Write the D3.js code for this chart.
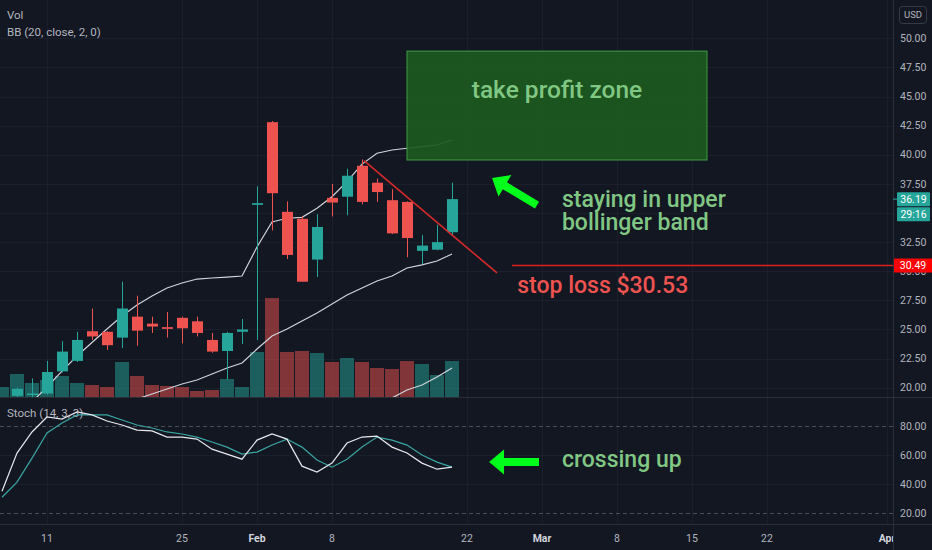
<!DOCTYPE html>
<html>
<head>
<meta charset="utf-8">
<script src="https://cdn.jsdelivr.net/npm/d3@7"></script>
<style>
  html, body { margin: 0; padding: 0; background: #131722; overflow: hidden; }
  svg { display: block; font-family: Roboto, 'Liberation Sans', sans-serif; }
</style>
</head>
<body>
<svg id="chart" width="932" height="550"></svg>
<script>
// ---- data ----
const dates = ['2021-01-06', '2021-01-07', '2021-01-08', '2021-01-11', '2021-01-12', '2021-01-13', '2021-01-14',
    '2021-01-15', '2021-01-19', '2021-01-20', '2021-01-21', '2021-01-22', '2021-01-25', '2021-01-26', '2021-01-27',
    '2021-01-28', '2021-01-29', '2021-02-01', '2021-02-02', '2021-02-03', '2021-02-04', '2021-02-05', '2021-02-08',
    '2021-02-09', '2021-02-10', '2021-02-11', '2021-02-12', '2021-02-16', '2021-02-17', '2021-02-18', '2021-02-19'];
const open = [18.6, 19.3, 19.4, 19.5, 21.4, 22.3, 24.85, 24.8, 24.3, 26.1, 25.5, 25.2, 26.0, 25.7, 24.1,
    23.15, 24.8, 35.7, 42.8, 35.1, 34.5, 31.0, 36.3, 36.4, 39.05, 37.6, 36.1, 35.95, 31.75, 31.85, 33.35];
const high = [19.1, 20.0, 20.8, 22.3, 24.0, 24.8, 26.8, 24.85, 29.1, 27.9, 26.1, 26.5, 26.1, 26.1, 24.7,
    24.8, 25.9, 37.3, 42.9, 36.0, 34.7, 34.9, 37.5, 38.8, 39.6, 37.95, 37.05, 36.0, 33.1, 34.0, 37.6];
const low = [18.4, 19.2, 19.2, 19.4, 21.3, 22.2, 24.1, 23.25, 23.4, 23.6, 24.7, 24.3, 23.8, 24.4, 23.0,
    20.7, 23.75, 24.1, 33.5, 31.05, 29.1, 29.5, 34.7, 34.8, 35.75, 35.95, 33.2, 31.2, 30.6, 31.8, 33.1];
const close = [19.0, 19.9, 19.5, 21.35, 23.1, 24.1, 24.4, 23.65, 26.8, 24.9, 25.25, 25.05, 25.1, 24.7, 23.1,
    24.7, 25.0, 35.85, 36.7, 31.4, 29.1, 33.8, 35.9, 38.2, 35.95, 36.8, 33.25, 32.85, 32.2, 32.5, 36.19];
// volume, millions
const volume = [3.0, 6.9, 4.2, 5.1, 6.3, 4.2, 3.6, 3.0, 10.5, 6.3, 3.6, 3.3, 3.0, 1.8, 2.1,
    5.4, 3.0, 13.5, 29.7, 13.5, 13.8, 13.2, 10.5, 11.7, 10.5, 8.7, 8.4, 10.8, 9.9, 6.6, 10.8];

// Bollinger bands (null = not on screen)
const bbUpper = [null, null, 18.77, 20.06, 21.43, 22.72, 23.88, 25.04, 26.16, 27.1, 27.87, 28.56, 28.99, 29.33, 29.42,
    29.5, 29.59, 32.08, 34.23, 34.55, 34.63, 35.4, 36.4, 37.69, 39.2, 40.13, 40.41, 40.56, 40.7, 40.84, 41.27];
const bbBasis = [null, null, null, null, null, null, null, null, 18.6, 19.03, 19.46, 19.89, 20.32, 20.66, 21.18,
    21.69, 22.12, 23.32, 24.44, 25.04, 25.73, 26.42, 27.19, 27.96, 28.56, 29.16, 29.59, 30.28, 30.54, 30.88, 31.48];
const bbLower = [null, null, null, null, null, null, null, null, null, null, null, null, null, null, null,
    null, null, null, null, null, null, null, null, null, null, 18.5, 19.12, 19.8, 20.23, 20.92, 21.69];

// Stochastic (14, 3, 3)
const stochK = [35.2, 61.4, 75.9, 86.2, 84.8, 89.7, 87.6, 83.4, 80.7, 77.2, 76.6, 72.4, 72.4, 71.0, 64.1,
    60.7, 57.2, 70.3, 74.5, 71.0, 52.4, 48.3, 54.5, 68.3, 72.4, 73.1, 65.5, 61.4, 54.5, 50.3, 51.7];
const stochD = [31.0, 41.4, 57.9, 75.2, 82.1, 87.6, 87.6, 87.6, 84.1, 80.7, 78.6, 75.9, 74.5, 72.4, 69.0,
    65.5, 60.7, 62.1, 66.9, 71.0, 65.5, 56.6, 51.7, 57.2, 65.5, 72.4, 70.3, 66.9, 60.0, 55.2, 51.7];

// axes
const priceTicks = [20, 22.5, 25, 27.5, 30, 32.5, 35, 37.5, 40, 42.5, 45, 47.5, 50];
const stochTicks = [20, 40, 60, 80];
const stochLevels = [80, 20];
const tickDates = ['2021-01-11', '2021-01-25', '2021-02-01', '2021-02-08', '2021-02-22', '2021-03-01',
    '2021-03-08', '2021-03-15', '2021-03-22', '2021-04-01'];
const tickLabels = ['11', '25', 'Feb', '8', '22', 'Mar', '8', '15', '22', 'Apr'];
const holidays = ['2021-01-18', '2021-02-15'];

// drawings
const profitZone = {from: '2021-02-16', to: '2021-03-16', low: 39.55, high: 48.9};
const trendLine = [['2021-02-10', 39.5, 0.13], ['2021-02-24', 29.85, 0]];
const stopLoss = {from: '2021-02-25', price: 30.49};
const lastPrice = 36.19;

const C = {
    bg: '#131722', grid: '#1b1f2b', border: '#2a2e39', text: '#b2b5be',
    up: '#26a69a', down: '#ef5350', band: '#d1d4dc', stochK: '#e6e8ee', stochD: '#3aa6a3',
    note: '#81c784', arrow: '#00ff1a', rect: '#1c5a20', rectStroke: '#3d9e3f', stop: '#e0201f'
};

const plotRight = 893;
const priceBottom = 397;
const stochTop = 398, stochBottom = 524;

// ---- calendar / scales ----
const parse = d3.timeParse('%Y-%m-%d');
const fmt = d3.timeFormat('%Y-%m-%d');
const calendar = d3.timeDay.range(parse('2021-01-06'), parse('2021-04-03'))
    .filter(d => d.getDay() !== 0 && d.getDay() !== 6 && !holidays.includes(fmt(d)))
    .map(fmt);
const dayIndex = date => calendar.indexOf(date);

const x = d3.scaleLinear().domain([0, 1]).range([2, 17]);
const yPrice = d3.scaleLinear().domain([20, 50]).range([387.7, 38.3]);
const yVol = d3.scaleLinear().domain([0, d3.max(volume)]).range([priceBottom, 298]);
const yStoch = d3.scaleLinear().domain([20, 80]).range([513.3, 426]);

const px = (date, shift = 0) => x(dayIndex(date) + shift);

const svg = d3.select('#chart');
const defs = svg.append('defs');
defs.append('clipPath').attr('id', 'clip-price')
    .append('rect').attr('x', 0).attr('y', 0).attr('width', plotRight).attr('height', priceBottom);
defs.append('clipPath').attr('id', 'clip-stoch')
    .append('rect').attr('x', 0).attr('y', stochTop).attr('width', plotRight).attr('height', stochBottom - stochTop);
defs.append('clipPath').attr('id', 'clip-time')
    .append('rect').attr('x', 0).attr('y', stochBottom).attr('width', plotRight).attr('height', 30);

svg.append('rect').attr('width', 932).attr('height', 550).attr('fill', C.bg);

const bars = dates.map((d, i) => ({
    i: dayIndex(d), o: open[i], h: high[i], l: low[i], c: close[i], v: volume[i], up: close[i] >= open[i]
}));

/**
 * Grid lines for both panes
 */
function drawGrid() {
    const g = svg.append('g').attr('class', 'grid');

    g.selectAll('.vgrid')
        .data(tickDates)
        .join('line')
        .attr('x1', d => Math.round(px(d)) + 0.5)
        .attr('x2', d => Math.round(px(d)) + 0.5)
        .attr('y1', 0)
        .attr('y2', stochBottom)
        .attr('stroke', C.grid)

    g.selectAll('.hgrid')
        .data(priceTicks)
        .join('line')
        .attr('x1', 0)
        .attr('x2', plotRight)
        .attr('y1', d => Math.round(yPrice(d)) + 0.5)
        .attr('y2', d => Math.round(yPrice(d)) + 0.5)
        .attr('stroke', C.grid)

    g.selectAll('.sgrid')
        .data(stochTicks.filter(d => !stochLevels.includes(d)))
        .join('line')
        .attr('x1', 0)
        .attr('x2', plotRight)
        .attr('y1', d => Math.round(yStoch(d)) + 0.5)
        .attr('y2', d => Math.round(yStoch(d)) + 0.5)
        .attr('stroke', C.grid)
}

/**
 * Volume, bands and candles in the main pane
 */
function drawPrice() {
    const g = svg.append('g').attr('clip-path', 'url(#clip-price)');

    g.append('g').selectAll('rect')
        .data(bars)
        .join('rect')
        .attr('x', d => x(d.i) - 7)
        .attr('width', 14)
        .attr('y', d => yVol(d.v))
        .attr('height', d => priceBottom - yVol(d.v))
        .attr('fill', d => d.up ? C.up : C.down)
        .attr('fill-opacity', 0.5)

    const line = d3.line()
        .defined(d => d[1] !== null)
        .x(d => x(d[0]))
        .y(d => yPrice(d[1]));

    [bbUpper, bbBasis, bbLower].forEach(series => {
        g.append('path')
            .attr('d', line(series.map((v, i) => [bars[i].i, v])))
            .attr('fill', 'none')
            .attr('stroke', C.band)
            .attr('stroke-width', 1.2)
    })

    const candle = g.append('g').selectAll('g')
        .data(bars)
        .join('g')
        .attr('fill', d => d.up ? C.up : C.down)
        .attr('stroke', d => d.up ? C.up : C.down)

    candle.append('line')
        .attr('x1', d => Math.round(x(d.i)) + 0.5)
        .attr('x2', d => Math.round(x(d.i)) + 0.5)
        .attr('y1', d => yPrice(d.h))
        .attr('y2', d => yPrice(d.l))
        .attr('stroke-width', 1)

    candle.append('rect')
        .attr('x', d => Math.round(x(d.i)) - 5)
        .attr('width', 11)
        .attr('y', d => yPrice(Math.max(d.o, d.c)))
        .attr('height', d => Math.max(1.5, Math.abs(yPrice(d.o) - yPrice(d.c))))
        .attr('stroke', 'none')
}

/**
 * Stochastic pane
 */
function drawStoch() {
    const g = svg.append('g').attr('clip-path', 'url(#clip-stoch)');

    g.selectAll('.level')
        .data(stochLevels)
        .join('line')
        .attr('x1', 0)
        .attr('x2', plotRight)
        .attr('y1', d => Math.round(yStoch(d)) + 0.5)
        .attr('y2', d => Math.round(yStoch(d)) + 0.5)
        .attr('stroke', '#787b86')
        .attr('stroke-opacity', 0.55)
        .attr('stroke-dasharray', '4,3')

    g.append('text')
        .attr('x', 7)
        .attr('y', 417)
        .attr('fill', C.text)
        .attr('font-size', 11.5)
        .text('Stoch (14, 3, 3)')

    const line = d3.line()
        .x(d => x(d[0]))
        .y(d => yStoch(d[1]));

    g.append('path')
        .attr('d', line(stochD.map((v, i) => [bars[i].i, v])))
        .attr('fill', 'none')
        .attr('stroke', C.stochD)
        .attr('stroke-width', 1.2)

    g.append('path')
        .attr('d', line(stochK.map((v, i) => [bars[i].i, v])))
        .attr('fill', 'none')
        .attr('stroke', C.stochK)
        .attr('stroke-width', 1.2)
}

/**
 * Filled arrow from tail to tip
 */
function arrow(g, x0, y0, x1, y1) {
    const len = Math.hypot(x1 - x0, y1 - y0);
    const ang = Math.atan2(y1 - y0, x1 - x0) * 180 / Math.PI;
    const w = 8, hw = 25, hl = 15;
    const pts = [[0, -w / 2], [len - hl, -w / 2], [len - hl, -hw / 2], [len, 0],
        [len - hl, hw / 2], [len - hl, w / 2], [0, w / 2]];

    g.append('polygon')
        .attr('points', pts.map(p => p.join(',')).join(' '))
        .attr('transform', `translate(${x0},${y0}) rotate(${ang})`)
        .attr('fill', C.arrow)
}

/**
 * User drawings and notes
 */
function drawNotes() {
    const g = svg.append('g');

    const rx0 = px(profitZone.from), rx1 = px(profitZone.to);
    g.append('rect')
        .attr('x', rx0)
        .attr('y', yPrice(profitZone.high))
        .attr('width', rx1 - rx0)
        .attr('height', yPrice(profitZone.low) - yPrice(profitZone.high))
        .attr('fill', C.rect)
        .attr('fill-opacity', 0.92)
        .attr('stroke', C.rectStroke)
        .attr('stroke-width', 1)

    g.append('text')
        .attr('x', (rx0 + rx1) / 2)
        .attr('y', yPrice(44.87))
        .attr('text-anchor', 'middle')
        .attr('fill', C.note)
        .attr('font-size', 24.5)
        .attr('font-weight', 500)
        .text('take profit zone')

    g.append('line')
        .attr('x1', px(trendLine[0][0], trendLine[0][2]))
        .attr('y1', yPrice(trendLine[0][1]))
        .attr('x2', px(trendLine[1][0], trendLine[1][2]))
        .attr('y2', yPrice(trendLine[1][1]))
        .attr('stroke', '#d62a2a')
        .attr('stroke-width', 1.6)

    g.append('line')
        .attr('x1', px(stopLoss.from))
        .attr('x2', plotRight)
        .attr('y1', yPrice(stopLoss.price))
        .attr('y2', yPrice(stopLoss.price))
        .attr('stroke', C.stop)
        .attr('stroke-width', 1.5)

    g.append('text')
        .attr('x', px(stopLoss.from, 0.35))
        .attr('y', yPrice(stopLoss.price) + 27)
        .attr('fill', C.down)
        .attr('font-size', 23)
        .attr('font-weight', 500)
        .text('stop loss $30.53')

    const note = g.append('text')
        .attr('fill', C.note)
        .attr('font-size', 23)
        .attr('font-weight', 500)
    note.append('tspan').attr('x', px('2021-03-02', 0.33)).attr('y', yPrice(35.52)).text('staying in upper')
    note.append('tspan').attr('x', px('2021-03-02', 0.33)).attr('y', yPrice(33.54)).text('bollinger band')

    g.append('text')
        .attr('x', px('2021-03-02', 0.33))
        .attr('y', yStoch(51.7))
        .attr('fill', C.note)
        .attr('font-size', 23)
        .attr('font-weight', 500)
        .text('crossing up')

    arrow(g, px('2021-02-26', 0.67), yPrice(35.68), px('2021-02-23', 0.67), yPrice(38.0));
    arrow(g, px('2021-02-26', 0.8), yStoch(55.2), px('2021-02-23', 0.47), yStoch(55.2));
}

/**
 * Legends, pane borders, price / time axes
 */
function drawAxes() {
    svg.append('text').attr('x', 7).attr('y', 19).attr('fill', C.text).attr('font-size', 11.5).text('Vol');
    svg.append('text').attr('x', 7).attr('y', 36).attr('fill', C.text).attr('font-size', 11.5).text('BB (20, close, 2, 0)');

    svg.append('line').attr('x1', 0).attr('x2', 932).attr('y1', priceBottom + 0.5).attr('y2', priceBottom + 0.5).attr('stroke', C.border)
    svg.append('line').attr('x1', 0).attr('x2', 932).attr('y1', stochBottom + 0.5).attr('y2', stochBottom + 0.5).attr('stroke', C.border)
    svg.append('line').attr('x1', plotRight + 0.5).attr('x2', plotRight + 0.5).attr('y1', 0).attr('y2', 550).attr('stroke', C.border)

    const ax = svg.append('g')
        .attr('fill', C.text)
        .attr('font-size', 10.5)

    ax.selectAll('.pt')
        .data(priceTicks)
        .join('text')
        .attr('x', 900)
        .attr('y', d => yPrice(d))
        .attr('dy', '0.35em')
        .text(d => d.toFixed(2))

    ax.selectAll('.st')
        .data(stochTicks)
        .join('text')
        .attr('x', 900)
        .attr('y', d => yStoch(d))
        .attr('dy', '0.35em')
        .text(d => d.toFixed(2))

    svg.append('g')
        .attr('clip-path', 'url(#clip-time)')
        .selectAll('text')
        .data(tickDates)
        .join('text')
        .attr('x', d => px(d))
        .attr('y', 538)
        .attr('dy', '0.35em')
        .attr('text-anchor', 'middle')
        .attr('font-size', 10.5)
        .attr('font-weight', (d, i) => isNaN(+tickLabels[i]) ? 700 : 400)
        .attr('fill', (d, i) => isNaN(+tickLabels[i]) ? '#d1d4dc' : C.text)
        .text((d, i) => tickLabels[i])

    // USD badge
    svg.append('rect').attr('x', 899.5).attr('y', 6.5).attr('width', 27).attr('height', 17).attr('rx', 3)
        .attr('fill', 'none').attr('stroke', '#363a45')
    svg.append('text').attr('x', 913).attr('y', 15).attr('dy', '0.35em').attr('text-anchor', 'middle')
        .attr('fill', C.text).attr('font-size', 9.5).text('USD')

    // last price + countdown
    const yl = yPrice(lastPrice);
    svg.append('line').attr('x1', plotRight).attr('x2', plotRight + 4).attr('y1', yl).attr('y2', yl).attr('stroke', C.up)
    svg.append('rect').attr('x', 897).attr('y', yl - 7).attr('width', 33).attr('height', 14).attr('rx', 1).attr('fill', C.up)
    svg.append('text').attr('x', 913.5).attr('y', yl).attr('dy', '0.35em').attr('text-anchor', 'middle')
        .attr('fill', '#ffffff').attr('font-size', 10.5).text(lastPrice.toFixed(2))
    svg.append('rect').attr('x', 897).attr('y', yl + 8).attr('width', 33).attr('height', 14).attr('rx', 1).attr('fill', C.up)
    svg.append('text').attr('x', 913.5).attr('y', yl + 15).attr('dy', '0.35em').attr('text-anchor', 'middle')
        .attr('fill', '#ffffff').attr('font-size', 10.5).text('29:16')

    // stop loss price badge
    const ys = yPrice(stopLoss.price);
    svg.append('rect').attr('x', plotRight + 1).attr('y', ys - 7).attr('width', 38).attr('height', 14).attr('fill', '#ff0000')
    svg.append('text').attr('x', 913).attr('y', ys).attr('dy', '0.35em').attr('text-anchor', 'middle')
        .attr('fill', '#ffffff').attr('font-size', 10.5).text(stopLoss.price.toFixed(2))
}

drawGrid();
drawPrice();
drawStoch();
drawNotes();
drawAxes();
</script>
</body>
</html>
